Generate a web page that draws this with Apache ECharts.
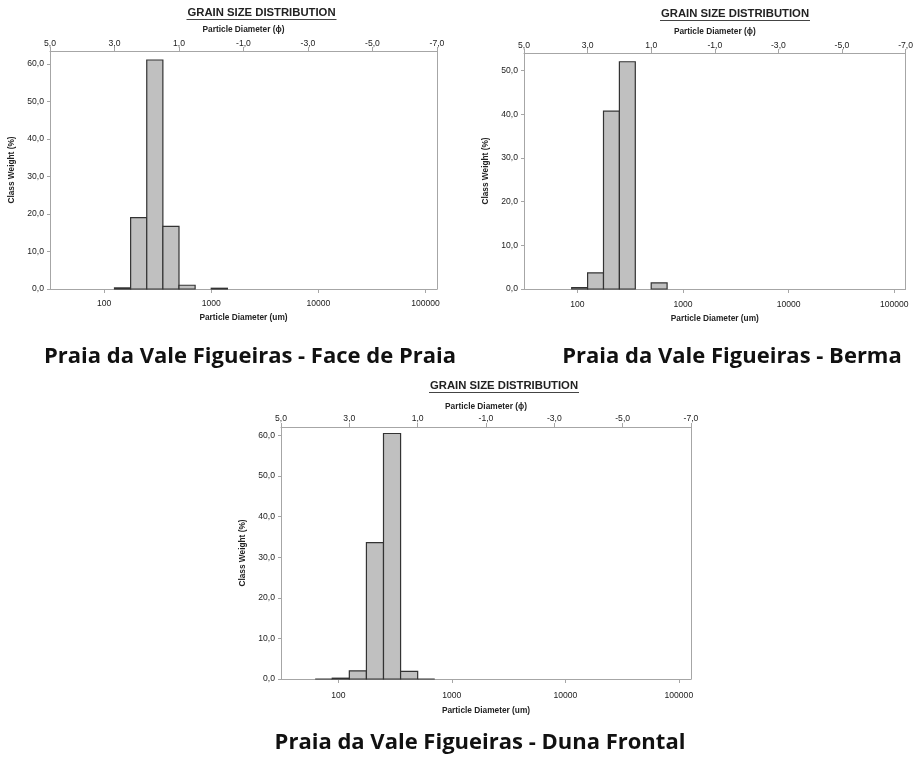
<!DOCTYPE html>
<html><head><meta charset="utf-8">
<script src="https://cdn.jsdelivr.net/npm/echarts@6/dist/echarts.min.js"></script>
<style>html,body{margin:0;padding:0;background:#fff}#c{width:916px;height:758px}</style>
</head><body><div id="c"></div>
<script>
// ---- data ----
const binStartPhi = [4.0, 3.5, 3.0, 2.5, 2.0, 1.5, 1.0, 0.5, 0.0];
const binWidthPhi = 0.5;
const facePraia   = [null, null, 0.3, 19.0, 61.0, 16.7, 1.0, null, 0.2];
const berma       = [null, 0.3, 3.7, 40.7, 52.0, null, 1.4, null, null];
const dunaFrontal = [0.0, 0.2, 2.0, 33.6, 60.5, 1.9, 0.0, null, null];
const phiTicks = [5, 3, 1, -1, -3, -5, -7];
const umTicks = [100, 1000, 10000, 100000];
const yTicks = [0, 10, 20, 30, 40, 50, 60];
const yMax = [63.4, 54.0, 62.1];
const chartTitle = 'GRAIN SIZE DISTRIBUTION';
const captions = ['Praia da Vale Figueiras - Face de Praia', 'Praia da Vale Figueiras - Berma', 'Praia da Vale Figueiras - Duna Frontal'];
const seriesList = [facePraia, berma, dunaFrontal];

// ---- layout ----
const grids = [
  {left: 50, top: 51, width: 387, height: 238},
  {left: 524, top: 53, width: 386, height: 236},
  {left: 281, top: 427, width: 410, height: 252}
];
const captionPos = [[250, 357], [732, 357], [480, 743]];
const titleY = [13, 14, 386];
const bottomNameGap = [25, 26, 28];
const bottomLabelMargin = [10, 11, 12];
const topNameGap = [17, 17, 16];
const topLabelMargin = [3, 3, 4];

const FONT = '"Liberation Sans", Arial, sans-serif';
const fmt1 = v => v.toFixed(1).replace('.', ',');
const phiToUm = p => 1000 * Math.pow(2, -p);

const chart = echarts.init(document.getElementById('c'), null, {renderer: 'canvas'});
const xAxes = [], yAxes = [], series = [], graphics = [];
const nameStyle = {fontFamily: FONT, fontSize: 8.3, fontWeight: 'bold', color: '#222'};

grids.forEach((g, i) => {
  const axisLine = {show: true, onZero: false, lineStyle: {color: '#a6a6a6', width: 1}};
  // bottom log axis (um)
  xAxes.push({
    gridIndex: i, type: 'log', position: 'bottom', logBase: 10,
    min: phiToUm(phiTicks[0]), max: phiToUm(phiTicks[phiTicks.length - 1]),
    axisLine, splitLine: {show: false},
    axisTick: {show: true, length: 4, lineStyle: {color: '#a6a6a6'}, customValues: umTicks},
    axisLabel: {color: '#222', fontFamily: FONT, fontSize: 8.6, margin: bottomLabelMargin[i], customValues: umTicks, formatter: v => String(Math.round(v))},
    name: 'Particle Diameter (um)', nameLocation: 'middle', nameGap: bottomNameGap[i],
    nameTextStyle: nameStyle
  });
  // top phi axis
  xAxes.push({
    gridIndex: i, type: 'value', position: 'top', inverse: true,
    min: phiTicks[phiTicks.length - 1], max: phiTicks[0],
    axisLine, splitLine: {show: false},
    axisTick: {show: true, length: 4, lineStyle: {color: '#a6a6a6'}, customValues: phiTicks},
    axisLabel: {color: '#222', fontFamily: FONT, fontSize: 8.6, margin: topLabelMargin[i], customValues: phiTicks, formatter: v => fmt1(v)},
    name: 'Particle Diameter (\u03d5)', nameLocation: 'middle', nameGap: topNameGap[i],
    nameTextStyle: nameStyle
  });
  const yt = yTicks.filter(v => v <= yMax[i]);
  yAxes.push({
    gridIndex: i, type: 'value', position: 'left', min: 0, max: yMax[i],
    axisLine, splitLine: {show: false},
    axisTick: {show: true, length: 3, lineStyle: {color: '#a6a6a6'}, customValues: yt},
    axisLabel: {color: '#222', fontFamily: FONT, fontSize: 8.6, margin: 6, customValues: yt, formatter: v => fmt1(v)},
    name: 'Class Weight (%)', nameLocation: 'middle', nameGap: 34, nameRotate: 90,
    nameTextStyle: nameStyle
  });
  // right border line
  yAxes.push({
    gridIndex: i, type: 'value', position: 'right', min: 0, max: yMax[i],
    axisLine, axisTick: {show: false, length: 0}, axisLabel: {show: false}, splitLine: {show: false}
  });

  const data = [];
  binStartPhi.forEach((p, k) => {
    const v = seriesList[i][k];
    if (v !== null) data.push([p, p - binWidthPhi, v]);
  });
  series.push({
    type: 'custom', xAxisIndex: i * 2 + 1, yAxisIndex: i * 2,
    encode: {x: [0, 1], y: 2},
    data,
    renderItem: (params, api) => {
      const a = api.coord([api.value(0), api.value(2)]);
      const b = api.coord([api.value(1), 0]);
      return {
        type: 'rect',
        shape: {x: Math.min(a[0], b[0]), y: a[1], width: Math.abs(b[0] - a[0]), height: b[1] - a[1]},
        style: {fill: '#c0c0c0', stroke: '#333', lineWidth: 1.2}
      };
    }
  });

  // chart title with underline
  const cx = g.left + g.width / 2 + 18;
  const ty = titleY[i];
  graphics.push({
    type: 'text', x: cx, y: ty,
    style: {text: chartTitle, fill: '#222', font: 'bold 11.3px ' + FONT, textAlign: 'center', textVerticalAlign: 'middle'}
  });
  graphics.push({
    type: 'line', shape: {x1: cx - 75, y1: ty + 6.5, x2: cx + 75, y2: ty + 6.5},
    style: {stroke: '#444', lineWidth: 1}
  });
  // caption
  graphics.push({
    type: 'text', x: captionPos[i][0], y: captionPos[i][1],
    style: {text: captions[i], fill: '#111', font: 'bold 22px "Open Sans", sans-serif', textAlign: 'center', textVerticalAlign: 'middle'}
  });
});

chart.setOption({
  backgroundColor: '#fff',
  animation: false,
  grid: grids.map(g => Object.assign({containLabel: false}, g)),
  xAxis: xAxes,
  yAxis: yAxes,
  series,
  graphic: graphics
});
</script></body></html>
